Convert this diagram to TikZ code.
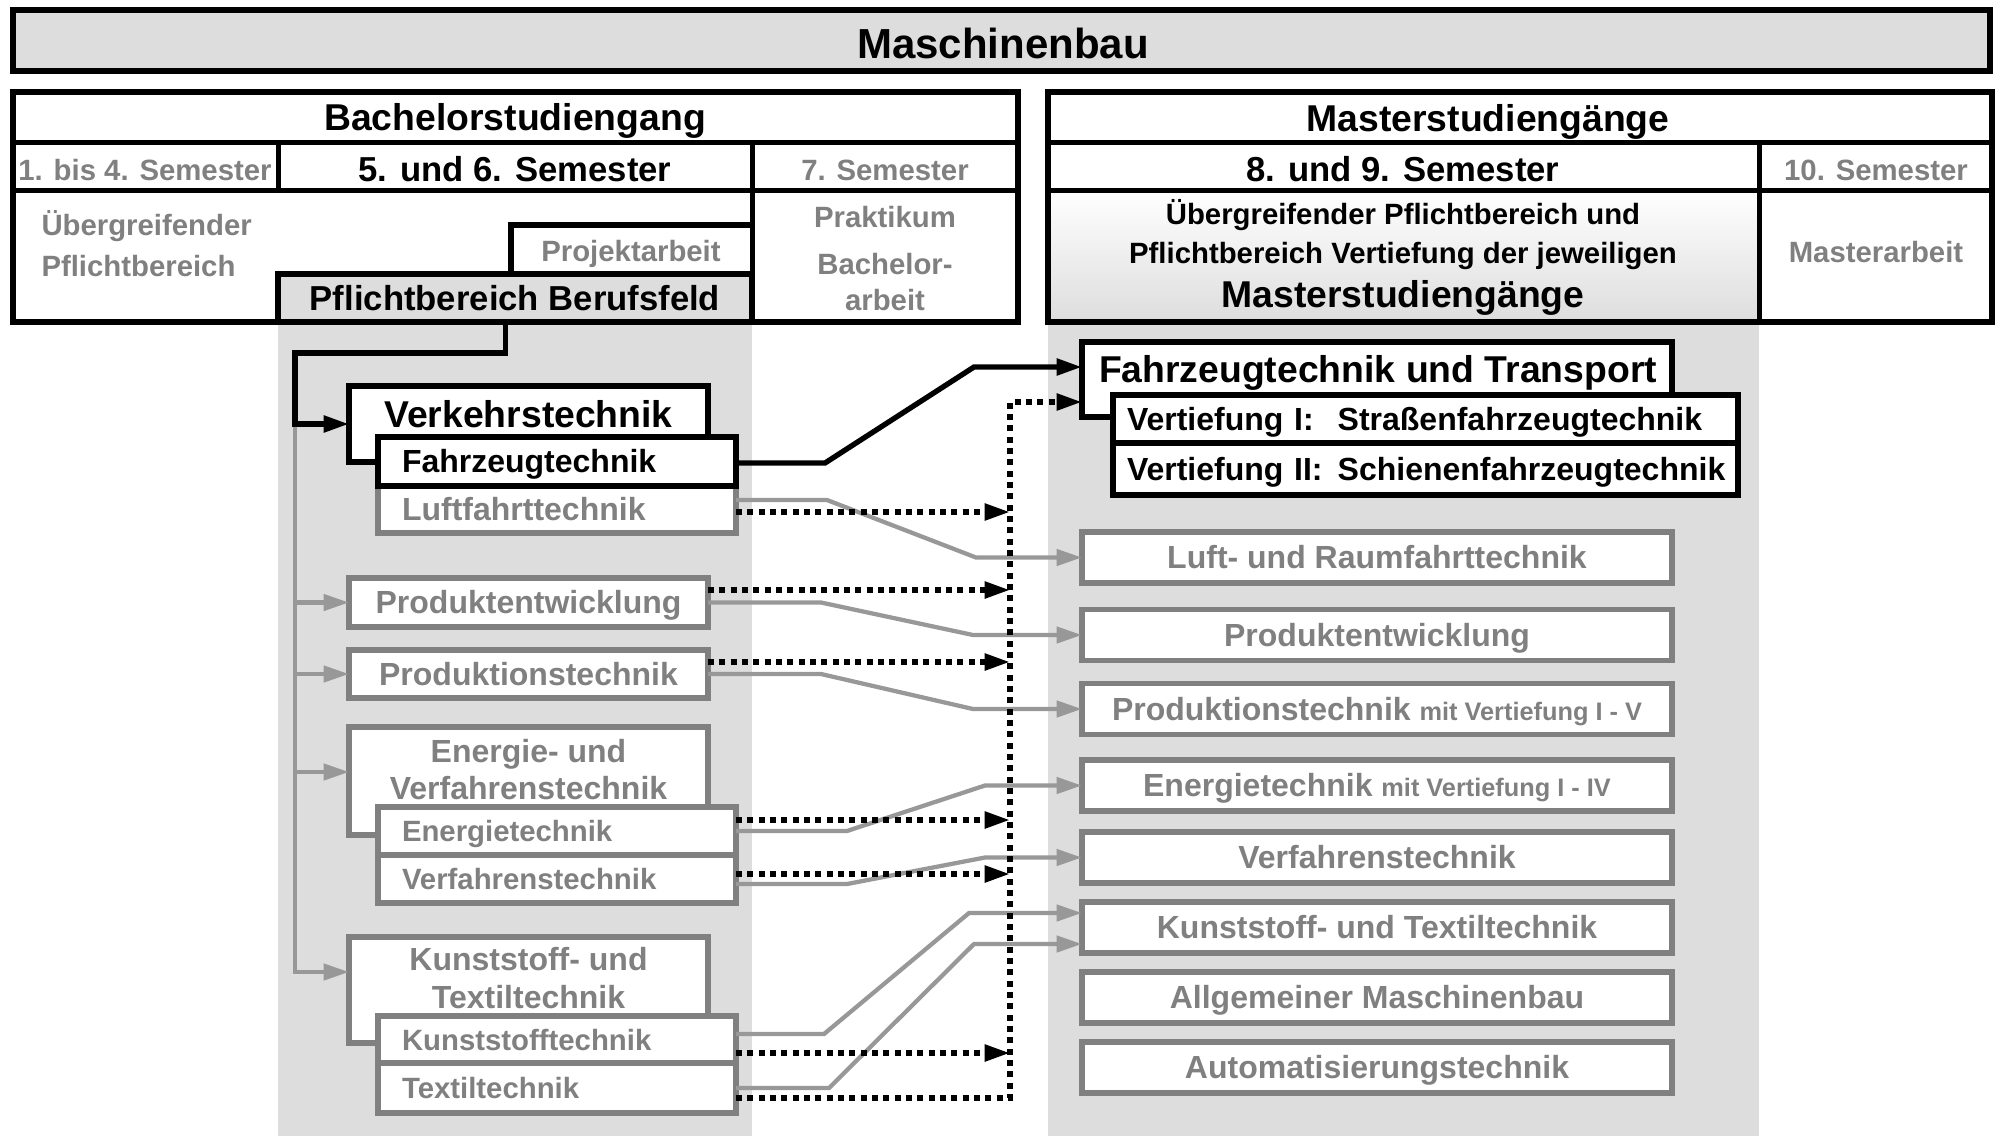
\documentclass[tikz,border=0pt]{standalone}
\usepackage{fontspec}
\setmainfont{Liberation Sans}
\usetikzlibrary{arrows.meta,calc}

\definecolor{bggrey}{RGB}{221,221,221}
\definecolor{txtgrey}{RGB}{128,128,128}
\definecolor{lngrey}{RGB}{152,152,152}

\tikzset{every picture/.style={line width=0.75pt}}
\tikzset{
  fhuge/.style={font=\fontsize{31.5}{36}\selectfont\bfseries},
  fbig/.style={font=\fontsize{28}{32}\selectfont\bfseries},
  fmid/.style={font=\fontsize{26}{30}\selectfont\bfseries},
  fstd/.style={font=\fontsize{24}{28}\selectfont\bfseries, text height=17.2pt, text depth=0pt},
  fsml/.style={font=\fontsize{22}{26}\selectfont\bfseries, text height=15.75pt, text depth=0pt},
  txt/.style={inner sep=0pt, anchor=base},
  gtext/.style={text=txtgrey},
  sz/.style 2 args={minimum width=#1*0.75pt, minimum height=#2*0.75pt},
  bbox/.style={draw=black, line width=4.5pt, fill=white, inner sep=0pt, outer sep=0pt},
  gbox/.style={draw=txtgrey, line width=4pt, fill=white, inner sep=0pt, outer sep=0pt, text=txtgrey},
  subbox/.style={inner xsep=18pt, text width=232.5pt, align=left},
  vtbox/.style={inner xsep=10.5pt, text width=447.75pt, align=left},
  mbox/.style={gbox, fstd, sz={590}{51}},
  tline/.style={line width=3.75pt},
  bframe/.style={line width=4.5pt},
  arr/.style={-{Triangle[length=19pt,width=12pt]}},
  bline/.style={line width=4pt},
  gline/.style={color=lngrey, line width=3.2pt},
  dline/.style={line width=4pt, dash pattern=on 4.5pt off 4pt},
}

\begin{document}
\begin{tikzpicture}[x=0.75pt,y=0.75pt,yscale=-1,xscale=1]
	\useasboundingbox (0,0) rectangle (2000,1136);

	%Shape: Rectangle (grey columns)
	\fill[bggrey] (278,322) rectangle (752,1136);
	\fill[bggrey] (1048,322) rectangle (1759,1136);

	%Shape: Rectangle (title)
	\draw[bframe, fill=bggrey] (13,10) rectangle (1990,71);
	% Text Node
	\node[fhuge, txt] (titel) at (1003,58) {Maschinenbau};

	%Shape: Rectangle (Bachelor)
	\fill[white] (13,92) rectangle (1018,322);
	%Straight Lines
	\draw[tline] (13,142) -- (1018,142);
	\draw[tline] (13,190) -- (1018,190);
	\draw[tline] (278,142) -- (278,190);
	\draw[tline] (752,142) -- (752,322);
	\draw[bframe] (511,274) |- (752,225);
	\node[bbox, fmid, fill=bggrey, text height=18.6pt, text depth=0pt, sz={474}{48}] (beruf) at (515,298) {Pflichtbereich Berufsfeld};
	\draw[bframe] (13,92) rectangle (1018,322);

	% Text Node
	\node[fbig, txt] (bsc) at (515,130) {Bachelorstudiengang};
	\node[fsml, gtext, txt] (sem14) at (145,180) {1. bis 4. Semester};
	\node[fmid, txt] (sem56) at (515,181) {5. und 6. Semester};
	\node[fsml, gtext, txt] (sem7) at (885,180) {7. Semester};
	\node[fsml, gtext, txt, anchor=base west] (uebpf1) at (41,235) {Übergreifender};
	\node[fsml, gtext, txt, anchor=base west] (uebpf2) at (41,276) {Pflichtbereich};
	\node[fsml, gtext, txt] (projekt) at (631,261) {Projektarbeit};
	\node[fsml, gtext, txt] (prakt) at (885,227) {Praktikum};
	\node[fsml, gtext, txt] (bacharb1) at (885,274) {Bachelor-};
	\node[fsml, gtext, txt] (bacharb2) at (885,310) {arbeit};

	%Shape: Rectangle (Master)
	\fill[white] (1048,92) rectangle (1992,322);
	\shade[top color=white, bottom color=bggrey] (1048,190) rectangle (1759,322);
	%Straight Lines
	\draw[tline] (1048,142) -- (1992,142);
	\draw[tline] (1048,190) -- (1992,190);
	\draw[tline] (1759,142) -- (1759,322);
	\draw[bframe] (1048,92) rectangle (1992,322);

	% Text Node
	\node[fbig, txt] (msc) at (1488,131) {Masterstudiengänge};
	\node[fmid, txt] (sem89) at (1403,181) {8. und 9. Semester};
	\node[fsml, gtext, txt] (sem10) at (1876,180) {10. Semester};
	\node[fsml, txt] (mpf1) at (1403,224) {Übergreifender Pflichtbereich und};
	\node[fsml, txt] (mpf2) at (1403,263) {Pflichtbereich Vertiefung der jeweiligen};
	\node[fbig, txt] (mpf3) at (1403,307) {Masterstudiengänge};
	\node[fsml, gtext, txt] (marb) at (1876,262) {Masterarbeit};

	%Shape: Rectangle (5. und 6. Semester)
	\node[bbox, sz={359}{76}] (verkehr) at (528.5,424) {};
	\node[fbig, txt] (verkehrtxt) at (528.5,427) {Verkehrstechnik};
	\node[gbox, fstd, subbox, sz={358}{47}] (luft) at (557,509.5) {Luftfahrttechnik};
	\node[bbox, fstd, subbox, sz={358}{49}] (fahrzeug) at (557,461.5) {Fahrzeugtechnik};

	\node[gbox, fstd, sz={359}{49}] (prodentw) at (528.5,602.5) {Produktentwicklung};
	\node[gbox, fstd, sz={359}{48}] (prodtech) at (528.5,674) {Produktionstechnik};

	\node[gbox, sz={359}{108}] (energie) at (528.5,781) {};
	\node[fstd, gtext, txt] (energietxt1) at (528.5,762) {Energie- und};
	\node[fstd, gtext, txt] (energietxt2) at (528.5,799) {Verfahrenstechnik};
	\node[gbox, fsml, subbox, sz={358}{48}] (verfahren) at (557,879) {Verfahrenstechnik};
	\node[gbox, fsml, subbox, sz={358}{48}] (energiet) at (557,831) {Energietechnik};

	\node[gbox, sz={359}{106}] (kunst) at (528.5,990) {};
	\node[fstd, gtext, txt] (kunsttxt1) at (528.5,970) {Kunststoff- und};
	\node[fstd, gtext, txt] (kunsttxt2) at (528.5,1008) {Textiltechnik};
	\node[gbox, fsml, subbox, sz={358}{50}] (textil) at (557,1088) {Textiltechnik};
	\node[gbox, fsml, subbox, sz={358}{47}] (kunstt) at (557,1039.5) {Kunststofftechnik};

	%Shape: Rectangle (8. und 9. Semester)
	\node[bbox, sz={590}{75}] (fzt) at (1377,379.5) {};
	\node[fbig, txt] (fzttxt) at (1378,382) {Fahrzeugtechnik und Transport};
	\node[bbox, fstd, vtbox, sz={625}{52}] (vt2) at (1425.5,469) {\makebox[158pt][l]{Vertiefung II:}Schienenfahrzeugtechnik};
	\node[bbox, fstd, vtbox, sz={625}{48}] (vt1) at (1425.5,419) {\makebox[158pt][l]{Vertiefung I:}Straßenfahrzeugtechnik};

	\node[mbox] (mluft) at (1377,557.5) {Luft- und Raumfahrttechnik};
	\node[mbox] (mprodentw) at (1377,635) {Produktentwicklung};
	\node[mbox] (mprodtech) at (1377,709) {Produktionstechnik {\fontsize{19}{22}\selectfont mit Vertiefung I - V}};
	\node[mbox] (menergie) at (1377,785.5) {Energietechnik {\fontsize{19}{22}\selectfont mit Vertiefung I - IV}};
	\node[mbox] (mverf) at (1377,857.5) {Verfahrenstechnik};
	\node[mbox] (mkunst) at (1377,927.5) {Kunststoff- und Textiltechnik};
	\node[mbox] (mallg) at (1377,997.5) {Allgemeiner Maschinenbau};
	\node[mbox] (mauto) at (1377,1067.5) {Automatisierungstechnik};

	%Straight Lines (black)
	\coordinate (trunk) at (295,424);
	\draw[gline, arr] (trunk) |- (prodentw.west);
	\draw[gline, arr] (trunk) |- (prodtech.west);
	\draw[gline, arr] (trunk) |- ($(energie.west)+(0,-9)$);
	\draw[gline, arr] (trunk) |- ($(kunst.west)+(0,-18)$);
	\draw[bline, arr] ($(beruf.south)+(-9.5,0)$) |- (295,353) |- (verkehr.west);

	%Straight Lines (grey)
	\draw[gline, arr] ($(luft.east)+(0,-9.5)$) -- (827,500) -- (976,557.5) -- (mluft.west);
	\draw[gline, arr] (prodentw.east) -- (821,602.5) -- (973,635) -- (mprodentw.west);
	\draw[gline, arr] (prodtech.east) -- (821,674) -- (973,709) -- (mprodtech.west);
	\draw[gline, arr] (energiet.east) -- (847,831) -- (985,785.5) -- (menergie.west);
	\draw[gline, arr] ($(verfahren.east)+(0,5)$) -- (847,884) -- (985,857.5) -- (mverf.west);
	\draw[gline, arr] ($(kunstt.east)+(0,-5.5)$) -- (824,1034) -- (969,913) -- ($(mkunst.west)+(0,-14.5)$);
	\draw[gline, arr] (textil.east) -- (829,1088) -- (974,944) -- ($(mkunst.west)+(0,16.5)$);
	\draw[bline, arr] ($(fahrzeug.east)+(0,1.5)$) -- (825,463) -- (974,367) -- ($(fzt.west)+(0,-12.5)$);

	%Straight Lines (dotted)
	\coordinate (bus) at (1010,402);
	\draw[dline, arr] ($(textil.east)+(0,10)$) -| (bus) -- ($(fzt.west)+(0,22.5)$);
	\draw[dline, arr] ($(luft.east)+(0,2.5)$) -- ++(274,0);
	\draw[dline, arr] ($(prodentw.east)+(0,-12.5)$) -- ++(302,0);
	\draw[dline, arr] ($(prodtech.east)+(0,-12)$) -- ++(302,0);
	\draw[dline, arr] ($(energiet.east)+(0,-11)$) -- ++(274,0);
	\draw[dline, arr] ($(verfahren.east)+(0,-5)$) -- ++(274,0);
	\draw[dline, arr] ($(kunstt.east)+(0,13.5)$) -- ++(274,0);

\end{tikzpicture}
\end{document}
